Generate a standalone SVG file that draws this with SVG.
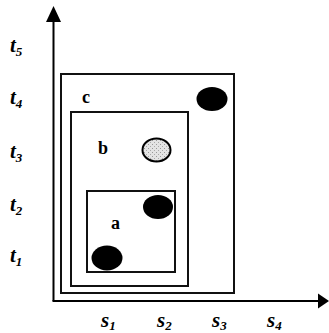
<svg xmlns="http://www.w3.org/2000/svg" width="329" height="333" viewBox="0 0 329 333">
<style>
.ax{stroke:#000;stroke-width:2;fill:none}
.box{stroke:#111;stroke-width:2;fill:none}
.lbl{font-family:"Liberation Serif",serif;font-weight:bold;font-size:18px;fill:#000}
.var{font-family:"Liberation Serif",serif;font-weight:bold;font-style:italic;font-size:21px;fill:#000}
.sub{font-size:13px}
</style>
<defs>
<pattern id="speck" width="4" height="4" patternUnits="userSpaceOnUse">
<rect width="4" height="4" fill="#e4e4e4"/>
<rect x="0" y="0" width="1" height="1" fill="#999"/>
<rect x="2" y="2" width="1" height="1" fill="#aaa"/>
</pattern>
</defs>
<rect width="329" height="333" fill="#fff"/>
<g id="axes">
<line class="ax" x1="53.5" y1="301" x2="53.5" y2="20"/>
<polygon points="53.5,6 46,22 61,22" fill="#000"/>
<line class="ax" x1="52.5" y1="301" x2="318" y2="301"/>
<polygon points="329,301 318,293.5 318,308.5" fill="#000"/>
</g>
<g id="ticks-t">
<text class="var" x="10" y="52">t<tspan class="sub" dy="4">5</tspan></text>
<text class="var" x="10" y="104">t<tspan class="sub" dy="4">4</tspan></text>
<text class="var" x="10" y="158">t<tspan class="sub" dy="4">3</tspan></text>
<text class="var" x="10" y="211">t<tspan class="sub" dy="4">2</tspan></text>
<text class="var" x="10" y="262">t<tspan class="sub" dy="4">1</tspan></text>
</g>
<g id="ticks-s">
<text class="var" x="101" y="327">s<tspan class="sub" dy="3">1</tspan></text>
<text class="var" x="157" y="327">s<tspan class="sub" dy="3">2</tspan></text>
<text class="var" x="212" y="327">s<tspan class="sub" dy="3">3</tspan></text>
<text class="var" x="267" y="327">s<tspan class="sub" dy="3">4</tspan></text>
</g>
<g id="c">
<rect class="box" x="61" y="74" width="173" height="219"/>
<text class="lbl" x="82" y="103">c</text>
</g>
<g id="b">
<rect class="box" x="71" y="112" width="117" height="174"/>
<text class="lbl" x="98" y="154">b</text>
</g>
<g id="a">
<rect class="box" x="87" y="191" width="88" height="81"/>
<text class="lbl" x="111" y="229">a</text>
</g>
<g id="points">
<ellipse cx="212" cy="99" rx="15.5" ry="12" fill="#000"/>
<ellipse cx="156.5" cy="150" rx="14" ry="11.5" fill="url(#speck)" stroke="#000" stroke-width="2"/>
<ellipse cx="158" cy="207" rx="15" ry="12" fill="#000"/>
<ellipse cx="107" cy="258" rx="15.5" ry="12.5" fill="#000"/>
</g>
</svg>
